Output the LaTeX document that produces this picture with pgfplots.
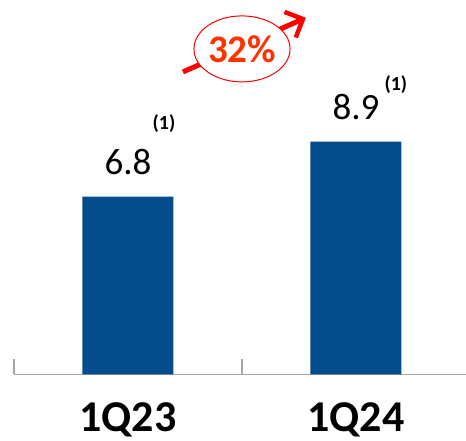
\documentclass[border=0pt]{standalone}
\usepackage{fontspec}
\setmainfont{Carlito}
\usepackage{pgfplots}
\pgfplotsset{compat=1.18}
\usetikzlibrary{arrows.meta,shapes.geometric}
\definecolor{barblue}{HTML}{044C8C}
\definecolor{axisgray}{HTML}{A6A6A6}
\definecolor{growthred}{HTML}{FF0000}
\definecolor{growthtext}{HTML}{FF3300}

\begin{document}
\begin{tikzpicture}
\useasboundingbox (0,0) rectangle (466pt,441pt);
\begin{axis}[
  at={(14pt,66.5pt)}, anchor=south west,
  scale only axis, width=452pt, height=374.5pt,
  xmin=-0.5, xmax=1.4825, ymin=0, ymax=14.32,
  axis x line*=bottom, axis y line=none,
  clip=false,
  xtick={-0.5,0.5}, xticklabels={},
  ytick=\empty,
  major tick length=15pt, tick align=inside,
  tick style={axisgray, line width=1.5pt},
  axis line style={axisgray, line width=1.5pt},
  extra x ticks={0,1},
  extra x tick labels={1Q23,1Q24},
  extra x tick style={
    major tick length=0pt, tick style={draw=none},
    xticklabel style={font=\fontsize{44}{44}\selectfont\bfseries,
                      anchor=base, inner sep=0pt, yshift=-57pt}},
  /pgf/number format/assume math mode=true,
]
% quarterly values
\addplot[ybar, fill=barblue, draw=none, bar width=91pt,
  nodes near coords,
  nodes near coords style={anchor=base, yshift=22pt, text=black,
    font=\fontsize{37}{37}\selectfont,
    /pgf/number format/fixed, /pgf/number format/precision=1}]
  coordinates {(0,6.8) (1,8.9)};

% footnote markers
\node[font=\fontsize{20}{20}\selectfont\bfseries] at (axis cs:0.158,9.58) {(1)};
\node[font=\fontsize{20}{20}\selectfont\bfseries] at (axis cs:1.175,11.07) {(1)};

% growth arrow with badge
\draw[growthred, line width=5pt,
  -{Straight Barb[length=14pt,width=28pt,line width=4.5pt]}]
  (axis cs:0.241,11.57) -- (axis cs:0.780,13.64);
\node[draw=growthred, line width=1pt, fill=white, ellipse,
  minimum width=92pt, minimum height=66pt, inner sep=0pt,
  text=growthtext, font=\fontsize{39}{39}\selectfont\bfseries]
  at (axis cs:0.5,12.45) {32\%};
\end{axis}
\end{tikzpicture}
\end{document}
